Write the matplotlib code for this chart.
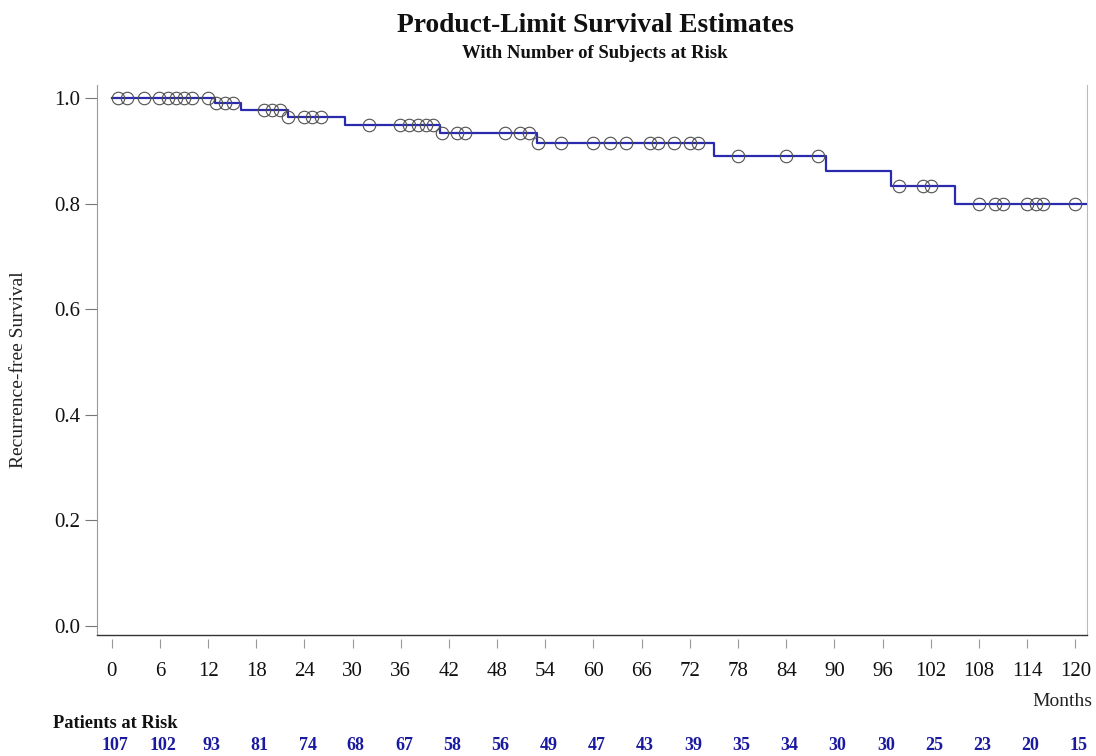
import numpy as np
import matplotlib
matplotlib.use('Agg')
import matplotlib.pyplot as plt
from matplotlib.transforms import blended_transform_factory

# ---- data ----
event_times = [0, 12.9, 16.1, 21.9, 29.0, 40.9, 53.0, 75.0, 88.9, 97.0, 105.0]
survival = [1.0, 0.990, 0.977, 0.964, 0.950, 0.935, 0.916, 0.890, 0.862, 0.833, 0.799]
censor_times = [0.8, 1.9, 4.0, 5.9, 7.0, 8.0, 9.0, 10.0, 12.0, 13.0, 14.1, 15.1,
                19.0, 20.0, 21.0, 22.0, 23.9, 25.0, 26.1, 32.0, 35.9, 37.0, 38.1,
                39.1, 40.0, 41.1, 43.0, 44.0, 49.0, 50.9, 52.0, 53.1, 56.0, 60.0,
                62.0, 64.0, 67.0, 68.0, 70.0, 72.0, 73.0, 78.0, 84.0, 88.0, 98.0,
                101.0, 102.0, 108.0, 110.0, 111.0, 114.0, 115.1, 116.0, 120.0]
risk_times = list(range(0, 121, 6))
at_risk = [107, 102, 93, 81, 74, 68, 67, 58, 56, 49, 47, 43, 39, 35, 34, 30, 30, 25, 23, 20, 15]
xticks = list(range(0, 121, 6))
yticks = [0.0, 0.2, 0.4, 0.6, 0.8, 1.0]

plt.rcParams['font.family'] = ['Liberation Serif', 'DejaVu Serif']

W, H = 1096, 756
fig = plt.figure(figsize=(W / 100, H / 100), dpi=100)
fig.patch.set_facecolor('white')
ax = fig.add_axes([97 / W, 1 - 635 / H, (1087 - 97) / W, (635 - 85) / H])
xmax = 121.46
ax.set_xlim(-1.83, xmax)
ax.set_ylim(-0.017, 1.025)

line_color = '#2A2AAE'
xs = list(event_times) + [xmax]
ys = list(survival) + [survival[-1]]
ax.step(xs, ys, where='post', color=line_color, lw=1.6, zorder=3)

ev = np.array(event_times)
sv = np.array(survival)
cy = sv[np.searchsorted(ev, np.array(censor_times), side='right') - 1]
ax.plot(censor_times, cy, ls='none', marker='o', ms=9, mfc='none',
        mec='#505050', mew=0.8, zorder=4)

# spines
ax.spines['top'].set_visible(False)
ax.spines['right'].set_color('#BBBBBB')
ax.spines['left'].set_color('#999999')
ax.spines['bottom'].set_position(('outward', 3))
ax.spines['bottom'].set_visible(False)
ax.plot([0, 1], [0, 0], transform=ax.transAxes, color='#333333', lw=1.0,
        clip_on=False, zorder=5)

ax.set_xticks(xticks)
ax.set_xticklabels([str(t) for t in xticks])
ax.set_yticks(yticks)
ax.set_yticklabels([f'{v:.1f}' for v in yticks])
ax.tick_params(axis='x', length=6.5, width=0.8, color='#999999', labelsize=15,
               pad=10, labelcolor='#111111')
ax.tick_params(axis='y', length=9, width=0.8, color='#777777', labelsize=15,
               pad=3, labelcolor='#111111')

ax.set_ylabel('Recurrence-free Survival', fontsize=14, color='#222222')
ax.yaxis.label.set_va('center')
ax.yaxis.set_label_coords((19 - 97) / 990, (635 - 370) / 550)

# titles
fig.text(595 / W, 1 - 25 / H, 'Product-Limit Survival Estimates', ha='center',
         va='center', fontsize=19.8, fontweight='bold', color='#111111')
fig.text(595 / W, 1 - 53 / H, 'With Number of Subjects at Risk', ha='center',
         va='center', fontsize=13.5, fontweight='bold', color='#111111')

fig.text(1092 / W, 1 - 701 / H, 'Months', ha='right', va='center', fontsize=14,
         color='#222222')
fig.text(53 / W, 1 - 724 / H, 'Patients at Risk', ha='left', va='center',
         fontsize=13.3, fontweight='bold', color='#111111')

tr = blended_transform_factory(ax.transData, fig.transFigure)
for t, n in zip(risk_times, at_risk):
    ax.text(t + 0.4, 1 - 746 / H, str(n), transform=tr, ha='center', va='center',
            fontsize=13, fontweight='bold', color='#1A1AA0', clip_on=False)

fig.savefig('out.png', dpi=100, facecolor='white')
